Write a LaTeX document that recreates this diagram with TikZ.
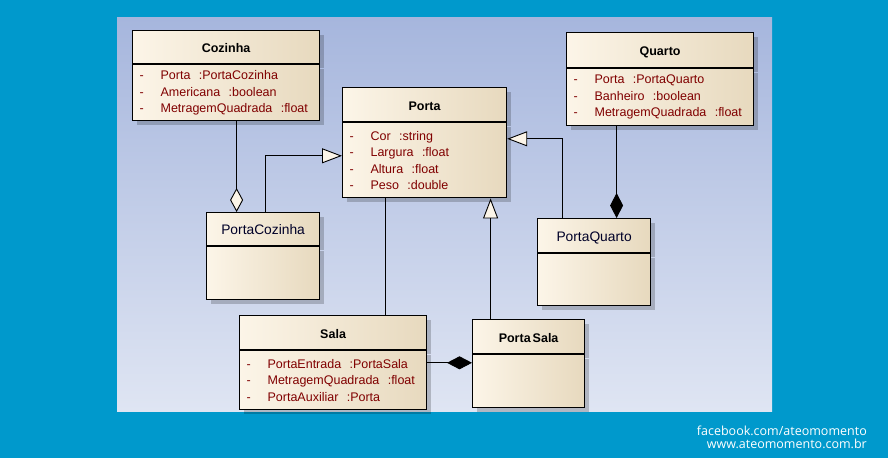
\documentclass[tikz,border=0pt]{standalone}
\usepackage{fontspec}
\setmainfont{Liberation Sans}
\newfontfamily\footfont{Open Sans}
\usetikzlibrary{arrows.meta,shadows}
\definecolor{bgblue}{RGB}{0,153,204}
\definecolor{paneltop}{RGB}{166,182,221}
\definecolor{panelbottom}{RGB}{223,229,243}
\definecolor{boxlight}{RGB}{252,245,232}
\definecolor{boxdark}{RGB}{231,217,190}
\definecolor{attrred}{RGB}{128,0,0}
\definecolor{titlenavy}{RGB}{0,0,40}

\begin{document}
\begin{tikzpicture}[x=1pt,y=-1pt]
    \newcommand{\att}[2]{\makebox[21pt][l]{-}#1\ \ :#2}
    \tikzstyle{box}=[
      draw=black,
      line width=1.2pt,
      left color=boxlight,
      right color=boxdark,
      drop shadow={shadow xshift=4pt,shadow yshift=-4pt,fill=black,opacity=0.2}
    ]
    \tikzstyle{head}=[
      box,
      anchor=north west,
      inner sep=0pt,
      text height=11pt,
      text depth=0pt,
      font=\fontsize{12.5}{15}\selectfont\bfseries
    ]
    \tikzstyle{plainhead}=[
      head,
      text=titlenavy,
      font=\fontsize{13.8}{16}\selectfont
    ]
    \tikzstyle{body}=[
      box,
      anchor=north,
      align=left,
      inner xsep=7pt,
      inner ysep=0pt,
      text=attrred,
      font=\fontsize{12.5}{16.5}\selectfont
    ]
    \tikzstyle{edge} = [line width=0.9pt,draw=black]
    \tikzstyle{gen}  = [edge,-{Triangle[length=20pt,width=15pt,fill=boxlight]}]
    \tikzstyle{aggr} = [edge,-{Diamond[length=24pt,width=13pt,fill=boxlight]}]
    \tikzstyle{comp} = [edge,-{Diamond[length=25pt,width=13pt,fill=black]}]

    % background
    \fill[bgblue] (0,0) rectangle (888,458);
    \useasboundingbox (0,0) rectangle (888,458);
    \fill[top color=paneltop,bottom color=panelbottom] (117,17) rectangle (772,411);

    % classes
    \node[head,minimum width=187,minimum height=33] (cozinha) at (132,30) {Cozinha};
    \node[body,text width=173pt,minimum height=56] (cozinha body) at (cozinha.south) {
      \att{Porta}{PortaCozinha}\\
      \att{Americana}{boolean}\\
      \att{MetragemQuadrada}{float}};

    \node[head,minimum width=164,minimum height=34] (porta) at (342,87) {Porta};
    \node[body,text width=150pt,minimum height=75] (porta body) at (porta.south) {
      \att{Cor}{string}\\
      \att{Largura}{float}\\
      \att{Altura}{float}\\
      \att{Peso}{double}};

    \node[head,minimum width=187,minimum height=35] (quarto) at (566,32) {Quarto};
    \node[body,text width=173pt,minimum height=57] (quarto body) at (quarto.south) {
      \att{Porta}{PortaQuarto}\\
      \att{Banheiro}{boolean}\\
      \att{MetragemQuadrada}{float}};

    \node[plainhead,minimum width=113,minimum height=33] (pcozinha) at (206,212) {PortaCozinha};
    \node[body,text width=99pt,minimum height=53] (pcozinha body) at (pcozinha.south) {};

    \node[plainhead,minimum width=113,minimum height=34] (pquarto) at (537,218) {PortaQuarto};
    \node[body,text width=99pt,minimum height=52] (pquarto body) at (pquarto.south) {};

    \node[head,minimum width=187,minimum height=34] (sala) at (239,315) {Sala};
    \node[body,text width=173pt,minimum height=59] (sala body) at (sala.south) {
      \att{PortaEntrada}{PortaSala}\\
      \att{MetragemQuadrada}{float}\\
      \att{PortaAuxiliar}{Porta}};

    \node[head,minimum width=112,minimum height=34] (psala) at (472,319) {Porta\kern2pt Sala};
    \node[body,text width=98pt,minimum height=53] (psala body) at (psala.south) {};

    % relations
    \draw[aggr] ([xshift=10.5pt]cozinha body.south) -- ([xshift=10.5pt]cozinha body.south |- pcozinha.north);
    \draw[gen] ([xshift=2.5pt]pcozinha.north) |- ([yshift=4.5pt]porta body.west);
    \draw[edge] ([xshift=-39pt]porta body.south) -- ([xshift=-39pt]porta body.south |- sala.north);
    \draw[gen] ([xshift=-38pt]psala.north) -- ([xshift=-38pt]psala.north |- porta body.south);
    \draw[gen] ([xshift=-31.5pt]pquarto.north) |- ([yshift=21.5pt]porta body.east);
    \draw[comp] ([xshift=-43.5pt]quarto body.south) -- ([xshift=-43.5pt]quarto body.south |- pquarto.north);
    \draw[comp] ([yshift=17.5pt]sala body.east) -- ([yshift=17.5pt]sala body.east -| psala body.west);

    % footer
    \node[anchor=east,inner sep=0pt,text=white,font=\footfont\fontsize{12.5}{15}\selectfont] (facebook) at (867,431) {facebook.com/ateomomento};
    \node[anchor=east,inner sep=0pt,text=white,font=\footfont\fontsize{12.5}{15}\selectfont] (site) at (867,444) {www.ateomomento.com.br};
\end{tikzpicture}
\end{document}
